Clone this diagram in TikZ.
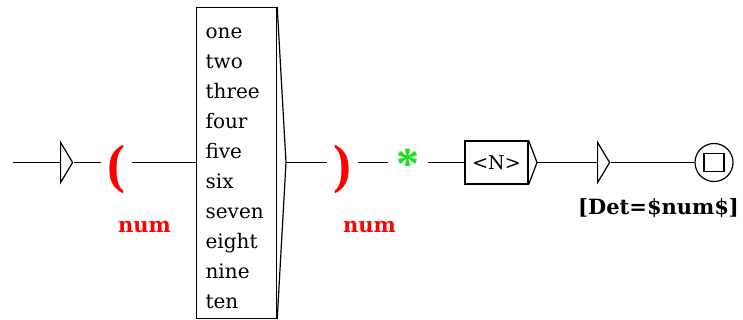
\documentclass[tikz,border=0pt]{standalone}
\usepackage{fontspec}
\setmainfont{DejaVu Serif}
\newfontfamily\parenfont{Liberation Serif}
\usetikzlibrary{positioning, calc, shapes.geometric}
\definecolor{varred}{HTML}{FF0000}
\definecolor{outgreen}{HTML}{22DD22}

\begin{document}
\begin{tikzpicture}[x=1pt, y=-1pt,
    box/.style={draw=black, line width=1.2pt, rectangle, inner sep=0pt, fill=white},
    listbox/.style={box, anchor=north west, minimum width=80pt, minimum height=311pt, text width=62pt, inner xsep=9pt, align=left, font=\fontsize{20}{30}\selectfont},
    tokbox/.style={box, minimum width=63pt, minimum height=43pt, font=\fontsize{19}{24}\selectfont},
    arrowbox/.style={draw=black, line width=1.2pt, isosceles triangle, isosceles triangle stretches, inner sep=0pt, minimum width=40pt, minimum height=12pt, anchor=west},
    varparen/.style={text=varred, inner sep=0pt, minimum width=31pt, text height=49pt, text depth=9pt, font=\parenfont\bfseries\fontsize{54}{54}\selectfont},
    outstar/.style={text=outgreen, inner sep=0pt, minimum width=40pt, text height=35pt, text depth=0pt, font=\parenfont\bfseries\fontsize{46}{46}\selectfont},
    varlabel/.style={text=varred, anchor=west, inner sep=0pt, font=\bfseries\fontsize{21}{24}\selectfont},
    outlabel/.style={anchor=west, inner sep=0pt, font=\bfseries\fontsize{21}{24}\selectfont},
    edge/.style={line width=1.2pt},
    finalstate/.style={draw=black, line width=1.2pt, circle, minimum size=38pt, inner sep=0pt}
]
\useasboundingbox (0,0) rectangle (743,320);

% Eingang und Variable num
\coordinate (start) at (13,162.5);
\node[arrowbox] (init) at (60,162.5) {};
\node[varparen] (open) at (116.5,162.5) {(};
\node[varlabel] at (118,227) {num};

% Liste der Zahlwörter
\node[listbox] (list) at (196,7) {\rule{0pt}{20.4pt}one\\two\\three\\four\\five\\six\\seven\\eight\\nine\\ten};
\coordinate (listtip) at (286,162.5);
\node[varparen] (close) at (342.5,162.5) {)};
\node[varlabel] at (343,227) {num};

% Ausgabe, Token und Endzustand
\node[outstar] (star) at (408,162.5) {*};
\node[tokbox] (tok) at (496.5,162.5) {<N>};
\coordinate (toktip) at (537,162.5);
\node[arrowbox] (det) at (597,162.5) {};
\node[outlabel] at (578,208) {[Det=\$num\$]};
\node[finalstate] (fin) at (714,162.5) {};
\node[box, minimum width=20pt, minimum height=18pt] (finsq) at (fin) {};

% Kanten
\draw[edge] (start) -- (init.west);
\draw[edge] (init.apex) -- (open.west);
\draw[edge] (open.east) -- (list.west |- open.east);
\draw[edge] (list.north east) -- (listtip) -- (list.south east);
\draw[edge] (listtip) -- (close.west);
\draw[edge] (close.east) -- (star.west);
\draw[edge] (star.east) -- (tok.west);
\draw[edge] (tok.north east) -- (toktip) -- (tok.south east);
\draw[edge] (toktip) -- (det.west);
\draw[edge] (det.apex) -- (fin.west);

\end{tikzpicture}
\end{document}
